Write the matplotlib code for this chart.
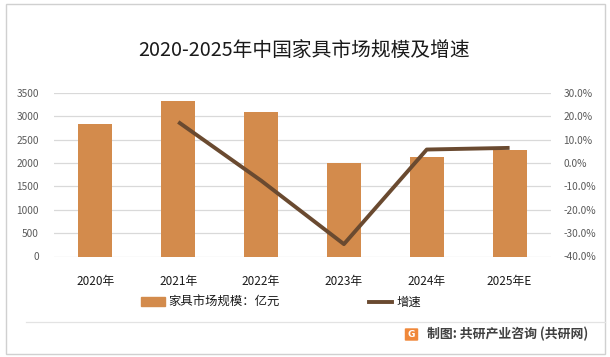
import matplotlib
matplotlib.use("Agg")
import matplotlib.pyplot as plt
from matplotlib.patches import FancyBboxPatch, Rectangle
from matplotlib.lines import Line2D

plt.rcParams['font.family'] = ['Noto Sans CJK SC', 'DejaVu Sans']

years = ["2020年", "2021年", "2022年", "2023年", "2024年", "2025年E"]
market_size = [2830, 3320, 3085, 2010, 2140, 2270]
growth_years = ["2021年", "2022年", "2023年", "2024年", "2025年E"]
growth = [17.6, -7.5, -34.7, 5.8, 6.5]
left_ticks = [0, 500, 1000, 1500, 2000, 2500, 3000, 3500]
right_ticks = [-40, -30, -20, -10, 0, 10, 20, 30]

bar_color = "#D38B4C"
line_color = "#6A4A30"
grid_color = "#D9D9D9"

W, H = 610, 357
fig = plt.figure(figsize=(W / 100, H / 100), dpi=100)
fig.patch.set_facecolor("white")

ax = fig.add_axes([54 / W, 1 - 256.5 / H, (551 - 54) / W, (256.5 - 93) / H])
x = list(range(len(years)))
ax.bar(x, market_size, width=0.41, color=bar_color, zorder=2)
ax.set_xlim(-0.5, len(years) - 0.5)
ax.set_ylim(0, 3500)
ax.set_yticks(left_ticks)
ax.set_yticklabels([str(t) for t in left_ticks])
ax.set_xticks(x)
ax.set_xticklabels(years)
for s in ax.spines.values():
    s.set_visible(False)
ax.tick_params(axis='y', length=0, pad=11, labelsize=7.3, labelcolor="#595959")
ax.tick_params(axis='x', length=0, pad=13, labelsize=8.5, labelcolor="#1a1a1a")
for t in left_ticks:
    ax.axhline(t, color=grid_color, lw=0.9, zorder=1)

ax2 = ax.twinx()
gx = [years.index(y) for y in growth_years]
ax2.plot(gx, growth, color=line_color, lw=2.8, solid_capstyle='butt', zorder=3)
ax2.set_ylim(-40, 30)
ax2.set_yticks(right_ticks)
ax2.set_yticklabels([f"{t:.1f}%" for t in right_ticks])
for s in ax2.spines.values():
    s.set_visible(False)
ax2.tick_params(axis='y', length=0, pad=9, labelsize=7.3, labelcolor="#595959")

fig.text(304 / W, 1 - 50 / H, "2020-2025年中国家具市场规模及增速", ha='center', va='center',
         fontsize=14.2, color="#1a1a1a")

handles = [Rectangle((0, 0), 1, 1, color=bar_color),
           Line2D([0], [0], color=line_color, lw=2.8)]
leg = fig.legend(handles, ["家具市场规模：亿元", "增速"], loc='center',
                 bbox_to_anchor=(281 / W, 1 - 302.5 / H), ncol=2, frameon=False,
                 fontsize=8.9, handlelength=1.9, handleheight=0.7, handletextpad=0.3,
                 columnspacing=7.2)
for t in leg.get_texts():
    t.set_color("#1a1a1a")

# frame and separator
fig.add_artist(Rectangle((5.5 / W, 3.5 / H), 599.5 / W, 350 / H, transform=fig.transFigure,
                         fill=False, edgecolor="#D0D0D0", lw=1.0))
fig.add_artist(Line2D([26 / W, 605 / W], [1 - 321.5 / H, 1 - 321.5 / H], transform=fig.transFigure,
                      color="#E3E3E3", lw=0.9))

# footer logo and text
fig.add_artist(FancyBboxPatch((406 / W, 1 - 340 / H), 11 / W, 11 / H, transform=fig.transFigure,
                              boxstyle="round,pad=0.002", facecolor="#F0883A", edgecolor="none"))
fig.text(411.5 / W, 1 - 334.5 / H, "G", ha='center', va='center', fontsize=6.5,
         color="white", fontweight='bold', family=['DejaVu Sans'])
fig.text(427 / W, 1 - 334 / H, "制图: 共研产业咨询 (共研网)", ha='left', va='center',
         fontsize=9.3, color="#404040", fontweight='bold')

fig.savefig("out.png", dpi=100)
